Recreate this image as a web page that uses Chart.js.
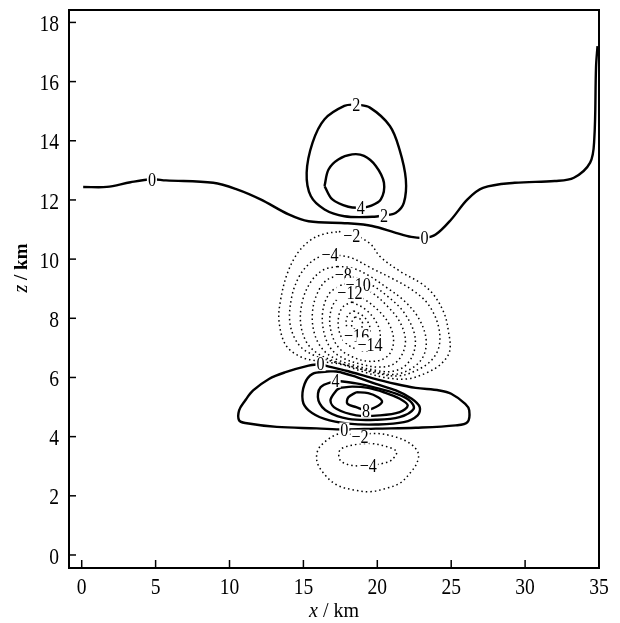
<!DOCTYPE html>
<html>
<head>
<meta charset="utf-8">
<script src="https://cdn.jsdelivr.net/npm/chart.js@4/dist/chart.umd.min.js"></script>
<style>
  html, body { margin: 0; background: #fff; }
  #wrap { width: 620px; height: 623px; }
</style>
</head>
<body>
<div id="wrap"><canvas id="graficoContorno"></canvas></div>
<script>
// Eixos
const xTicks = [0, 5, 10, 15, 20, 25, 30, 35];
const zTicks = [0, 2, 4, 6, 8, 10, 12, 14, 16, 18];

// Contornos positivos (linha cheia) - pares [x km, z km]
const pos0Upper = [[0.1,12.44],[1.7,12.44],[3.3,12.6],[4.75,12.7],[5.7,12.66],[8.9,12.58],[10.5,12.36],[12.1,12.02],[14.0,11.51],[15.35,11.28],[18.0,11.21],[19.65,11.12],[21.25,10.89],[22.3,10.75],[23.2,10.72],[23.95,10.83],[25.0,11.34],[26.1,12.02],[27.15,12.41],[29.3,12.58],[32.0,12.64],[33.3,12.75],[34.4,13.26],[34.68,14.05],[34.8,16.5],[34.9,17.2]];
const pos2Upper = [[18.57,15.23],[19.5,15.12],[20.85,14.5],[21.5,13.71],[21.93,12.7],[21.8,11.91],[21.26,11.57],[20.45,11.48],[19.65,11.43],[17.77,11.45],[16.43,11.68],[15.5,12.13],[15.22,12.92],[15.62,13.94],[16.43,14.73],[17.77,15.18],[18.57,15.23]];
const pos4Upper = [[16.43,12.47],[16.7,13.03],[17.36,13.37],[18.3,13.54],[19.1,13.49],[19.9,13.15],[20.45,12.58],[20.24,12.02],[19.5,11.79],[18.9,11.74],[18.04,11.77],[16.96,12.02],[16.43,12.47]];
const pos0Lower = [[16.16,6.45],[15.35,6.4],[13.74,6.17],[12.67,5.95],[11.6,5.56],[11.06,5.22],[10.65,4.89],[10.65,4.55],[11.06,4.46],[13.2,4.33],[15.9,4.28],[17.77,4.24],[19.9,4.27],[22.6,4.3],[25.3,4.38],[26.1,4.49],[26.22,4.89],[25.95,5.11],[25.0,5.45],[24.2,5.56],[22.6,5.65],[21.26,5.78],[19.65,5.98],[18.04,6.21],[16.96,6.34],[16.16,6.45]];
const pos2Lower = [[16.6,6.2],[15.62,6.12],[15.08,5.78],[14.95,5.22],[15.35,4.89],[16.43,4.6],[18.04,4.44],[19.9,4.41],[21.8,4.49],[22.73,4.72],[22.87,5.0],[22.33,5.28],[21.26,5.56],[19.9,5.78],[18.3,6.06],[17.23,6.2],[16.6,6.2]];
const pos4Lower = [[17.18,5.89],[16.16,5.67],[16.02,5.22],[16.69,4.83],[18.04,4.6],[19.9,4.57],[21.5,4.66],[22.46,4.94],[22.19,5.22],[21.26,5.45],[19.9,5.65],[18.57,5.8],[17.18,5.89]];
const pos6Lower = [[17.5,5.65],[17.23,5.56],[16.83,5.22],[17.23,4.94],[18.57,4.72],[20.18,4.72],[21.52,4.83],[22.06,5.05],[21.52,5.28],[20.45,5.5],[19.38,5.65],[18.3,5.69],[17.5,5.65]];
const pos8Lower = [[18.57,5.5],[18.04,5.33],[17.98,5.11],[18.57,5.0],[19.24,4.89],[19.9,5.0],[20.32,5.17],[20.05,5.33],[19.38,5.47],[18.57,5.5]];

// Contornos negativos (pontilhado)
const neg2Upper = [[17.4,10.93],[18.3,10.85],[19.5,10.53],[20.2,10.08],[21.6,9.57],[23.0,9.17],[23.8,8.8],[24.5,8.2],[24.8,7.6],[24.9,6.9],[24.3,6.45],[23.3,6.15],[22.0,5.95],[20.5,6.0],[19.0,6.2],[17.5,6.45],[16.0,6.55],[14.8,6.7],[13.8,7.1],[13.35,7.9],[13.45,8.6],[13.9,9.5],[14.6,10.2],[15.5,10.65],[16.4,10.85],[17.4,10.93]];
const neg4Upper = [[16.8,10.16],[18.2,10.05],[19.5,9.72],[21.1,9.32],[22.3,8.98],[23.4,8.5],[24.1,7.8],[24.2,7.1],[23.7,6.6],[22.7,6.25],[21.4,6.05],[19.9,6.15],[18.4,6.35],[16.9,6.55],[15.7,6.75],[14.7,7.1],[14.1,7.8],[14.2,8.7],[14.7,9.4],[15.4,9.85],[16.1,10.08],[16.8,10.16]];
const neg6Upper = [[17.3,9.75],[18.3,9.7],[19.4,9.45],[20.6,9.05],[21.8,8.6],[22.8,8.0],[23.3,7.3],[23.1,6.7],[22.3,6.3],[21.1,6.1],[19.8,6.2],[18.4,6.35],[17.1,6.55],[16.0,6.8],[15.2,7.2],[14.8,7.9],[15.0,8.7],[15.6,9.3],[16.4,9.65],[17.3,9.75]];
const neg8Upper = [[17.7,9.47],[18.6,9.35],[19.7,9.1],[20.8,8.7],[21.8,8.2],[22.5,7.5],[22.5,6.9],[21.9,6.4],[20.9,6.2],[19.8,6.25],[18.5,6.4],[17.3,6.6],[16.4,6.9],[15.8,7.4],[15.6,8.1],[15.9,8.8],[16.6,9.3],[17.7,9.47]];
const neg10Upper = [[18.7,9.13],[19.7,8.85],[20.7,8.4],[21.5,7.9],[21.9,7.3],[21.7,6.8],[21.1,6.45],[20.1,6.35],[18.9,6.45],[17.7,6.65],[16.9,6.95],[16.4,7.5],[16.3,8.2],[16.7,8.8],[17.4,9.08],[18.1,9.18],[18.7,9.13]];
const neg12Upper = [[18.15,8.85],[19.1,8.65],[20.1,8.25],[20.8,7.8],[21.1,7.3],[20.9,6.85],[20.3,6.6],[19.3,6.55],[18.3,6.7],[17.4,7.0],[16.9,7.5],[16.8,8.1],[17.2,8.6],[18.15,8.85]];
const neg14Upper = [[18.3,8.55],[19.2,8.3],[19.9,7.9],[20.2,7.45],[19.95,7.08],[19.4,6.9],[18.6,6.95],[17.8,7.2],[17.4,7.6],[17.4,8.1],[17.7,8.4],[18.3,8.55]];
const neg16Upper = [[18.4,8.25],[19.1,8.05],[19.5,7.7],[19.4,7.4],[18.8,7.28],[18.2,7.42],[17.9,7.8],[18.0,8.1],[18.4,8.25]];
const neg18Upper = [[18.5,8.05],[18.9,7.95],[19.0,7.75],[18.7,7.6],[18.3,7.7],[18.3,7.9],[18.5,8.05]];
const neg2Lower = [[18.83,4.0],[17.48,4.11],[16.12,3.66],[15.9,3.21],[16.35,2.77],[17.25,2.37],[18.39,2.2],[19.51,2.14],[20.65,2.26],[21.54,2.43],[22.22,2.77],[22.67,3.1],[22.77,3.44],[22.22,3.77],[21.08,4.01],[19.73,4.11],[18.83,4.0]];
const neg4Lower = [[19.39,3.0],[20.4,3.1],[20.97,3.21],[21.31,3.49],[20.65,3.66],[19.51,3.77],[18.39,3.72],[17.48,3.55],[17.48,3.21],[18.15,3.04],[19.39,3.0]];

// Rótulos dos contornos
const labelText = ['0','0','2','2','4','−2','−4','−8','−10','−12','−16','−14','0','4','8','0','−2','−4'];
const labelX = [4.75,23.19,18.57,20.45,18.89,18.27,16.8,17.7,18.71,18.15,18.6,19.51,16.16,17.18,19.24,17.77,18.83,19.39];
const labelZ = [12.7,10.72,15.23,11.48,11.74,10.8,10.16,9.47,9.13,8.85,7.4,7.12,6.45,5.89,4.89,4.24,4.0,3.0];

const solidas = [pos0Upper, pos2Upper, pos4Upper, pos0Lower, pos2Lower, pos4Lower, pos6Lower, pos8Lower];
const pontilhadas = [neg2Upper, neg4Upper, neg6Upper, neg8Upper, neg10Upper, neg12Upper, neg14Upper, neg16Upper, neg18Upper, neg2Lower, neg4Lower];

const fonte = '"Liberation Serif", "DejaVu Serif", serif';
const toPts = arr => arr.map(p => ({ x: p[0], y: p[1] }));

const datasets = [];
solidas.forEach(c => datasets.push({
    data: toPts(c), showLine: true, pointRadius: 0, borderColor: '#000',
    borderWidth: 2.4, tension: 0.35, fill: false
}));
pontilhadas.forEach(c => datasets.push({
    data: toPts(c), showLine: true, pointRadius: 0, borderColor: '#000',
    borderWidth: 1.5, borderDash: [1.5, 3], tension: 0.35, fill: false
}));

// texto estreito (fonte condensada como no original)
function textoEstreito(ctx, t, px, py, size, align) {
    ctx.save();
    ctx.font = size + 'px ' + fonte;
    ctx.translate(px, py);
    ctx.scale(0.85, 1);
    ctx.textAlign = align;
    ctx.textBaseline = 'alphabetic';
    ctx.fillText(t, 0, size * 0.33);
    ctx.restore();
}

// Moldura, ticks internos, rótulos e títulos
const extras = {
    id: 'extras',
    afterDatasetsDraw(chart) {
        const { ctx, chartArea: a, scales: { x, y } } = chart;
        ctx.save();
        // rótulos dos contornos
        labelText.forEach((t, i) => {
            const px = x.getPixelForValue(labelX[i]);
            const py = y.getPixelForValue(labelZ[i]);
            ctx.font = '19px ' + fonte;
            const w = ctx.measureText(t).width * 0.85;
            ctx.fillStyle = '#fff';
            ctx.fillRect(px - w / 2 - 1, py - 7, w + 2, 14);
            ctx.fillStyle = '#000';
            textoEstreito(ctx, t, px, py, 19, 'center');
        });
        // moldura
        ctx.strokeStyle = '#000';
        ctx.lineWidth = 2;
        ctx.strokeRect(a.left, a.top, a.right - a.left, a.bottom - a.top);
        // ticks internos e rótulos dos eixos
        ctx.lineWidth = 1.5;
        ctx.fillStyle = '#000';
        xTicks.forEach(v => {
            const px = x.getPixelForValue(v);
            ctx.beginPath(); ctx.moveTo(px, a.bottom); ctx.lineTo(px, a.bottom - 8); ctx.stroke();
            textoEstreito(ctx, String(v), px, a.bottom + 18, 23, 'center');
        });
        zTicks.forEach(v => {
            const py = y.getPixelForValue(v);
            ctx.beginPath(); ctx.moveTo(a.left, py); ctx.lineTo(a.left + 7, py); ctx.stroke();
            textoEstreito(ctx, String(v), a.left - 10, py + 1, 23, 'right');
        });
        // títulos dos eixos
        ctx.textBaseline = 'alphabetic';
        ctx.textAlign = 'left';
        const cx = (a.left + a.right) / 2;
        ctx.font = 'italic 20px ' + fonte;
        const wx = ctx.measureText('x').width;
        ctx.font = '20px ' + fonte;
        const wr = ctx.measureText(' / km').width;
        let sx = cx - (wx + wr) / 2;
        ctx.font = 'italic 20px ' + fonte;
        ctx.fillText('x', sx, 617);
        ctx.font = '20px ' + fonte;
        ctx.fillText(' / km', sx + wx, 617);

        ctx.translate(27, 268);
        ctx.rotate(-Math.PI / 2);
        ctx.font = 'italic 20px ' + fonte;
        const wz = ctx.measureText('z').width;
        ctx.font = 'bold 19px ' + fonte;
        const wk = ctx.measureText(' / km').width;
        sx = -(wz + wk) / 2;
        ctx.font = 'italic 20px ' + fonte;
        ctx.fillText('z', sx, 0);
        ctx.font = 'bold 19px ' + fonte;
        ctx.fillText(' / km', sx + wz, 0);
        ctx.restore();
    }
};

new Chart(document.getElementById('graficoContorno'), {
    type: 'scatter',
    data: { datasets },
    options: {
        responsive: true, maintainAspectRatio: false, animation: false,
        layout: { padding: { top: 10, right: 21, left: 0, bottom: 0 } },
        plugins: { legend: { display: false }, tooltip: { enabled: false } },
        scales: {
            x: {
                type: 'linear', min: -0.86, max: 35,
                afterFit: s => { s.height = 55; },
                grid: { display: false, drawTicks: false },
                border: { display: false },
                afterBuildTicks: s => { s.ticks = xTicks.map(v => ({ value: v })); },
                ticks: { display: false }
            },
            y: {
                type: 'linear', min: -0.44, max: 18.42,
                afterFit: s => { s.width = 69; },
                grid: { display: false, drawTicks: false },
                border: { display: false },
                afterBuildTicks: s => { s.ticks = zTicks.map(v => ({ value: v })); },
                ticks: { display: false }
            }
        }
    },
    plugins: [extras]
});
</script>
</body>
</html>
